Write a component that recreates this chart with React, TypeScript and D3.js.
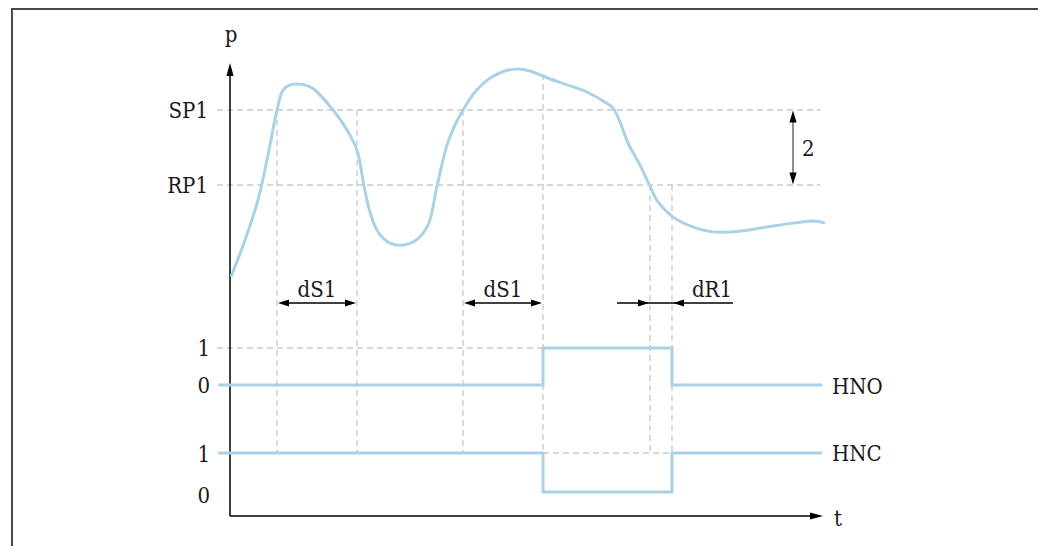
import React from 'react';
import * as d3 from 'd3';

// pressure curve p(t)
const curveT = [0.17, 2.53, 4.73, 6.42, 7.94, 8.95, 10.14, 11.82, 13.85, 17.4, 19.76, 21.45, 22.64, 23.65, 25.0, 27.03, 29.22, 31.42, 33.45, 34.97, 36.66, 38.01, 39.36, 41.39, 43.92, 46.45, 48.48, 50.68, 53.21, 56.59, 60.3, 63.34, 64.7, 65.88, 67.23, 69.26, 70.95, 72.3, 74.83, 77.7, 81.59, 86.15, 90.71, 95.44, 98.48, 100.5];
const curveP = [3.55, 4.53, 5.6, 6.8, 8.0, 8.53, 8.67, 8.69, 8.59, 8.0, 7.47, 6.93, 5.97, 5.28, 4.75, 4.45, 4.4, 4.53, 4.93, 5.97, 7.07, 7.6, 8.0, 8.48, 8.85, 9.04, 9.09, 9.04, 8.88, 8.69, 8.48, 8.21, 8.05, 7.68, 7.12, 6.53, 5.97, 5.55, 5.15, 4.91, 4.75, 4.77, 4.88, 4.99, 5.04, 4.99];

// thresholds
const thresholdNames = ['SP1', 'RP1'];
const thresholdValues = [8, 6];

// delay intervals (switch / reset)
const delayStart = [7.94, 39.36, 70.95];
const delayEnd = [21.45, 52.87, 74.66];
const delayNames = ['dS1', 'dS1', 'dR1'];

// switching outputs
const stepT = [-2, 52.87, 74.66, 100];
const hnoValues = [0, 1, 0];
const hncValues = [1, 0, 1];
const outputNames = ['HNO', 'HNC'];
const levelLabels = ['0', '1'];

const FONT = '"DejaVu Serif Condensed", "DejaVu Serif", serif';
const BLUE = '#a9d2e7';
const GRID = '#c9c9c9';
const TXT = '#1a1a1a';

function head(x: number, y: number, dir: 'l' | 'r' | 'u' | 'd', len = 11, hw = 3.6) {
  let pts: number[][];
  if (dir === 'r') pts = [[x, y], [x - len, y - hw], [x - len, y + hw]];
  else if (dir === 'l') pts = [[x, y], [x + len, y - hw], [x + len, y + hw]];
  else if (dir === 'u') pts = [[x, y], [x - hw, y + len], [x + hw, y + len]];
  else pts = [[x, y], [x - hw, y - len], [x + hw, y - len]];
  return <polygon points={pts.map(p => p.join(',')).join(' ')} fill="#000" />;
}

export default function App() {
  const x = d3.scaleLinear().domain([0, 100]).range([230, 822]);
  const yP = d3.scaleLinear().domain([6, 8]).range([185, 110]);
  const yHNO = d3.scaleLinear().domain([0, 1]).range([385, 348]);
  const yHNC = d3.scaleLinear().domain([0, 1]).range([492, 453]);

  const axisX = x(0);
  const axisY = 516;
  const axisTop = 63;
  const axisRight = 823;
  const leftStart = x(-2.2);
  const gridEnd = x(99.7);

  const pts: [number, number][] = curveT.map((t, i) => [t, curveP[i]]);
  const curvePath = d3.line<[number, number]>()
    .x(d => x(d[0])).y(d => yP(d[1]))
    .curve(d3.curveCatmullRom.alpha(0.5))(pts) || '';

  const stepPath = (vals: number[], ys: d3.ScaleLinear<number, number>) => {
    const sp: [number, number][] = vals.map((v, i) => [stepT[i], v]);
    sp.push([stepT[stepT.length - 1], vals[vals.length - 1]]);
    return d3.line<[number, number]>().x(d => x(d[0])).y(d => ys(d[1])).curve(d3.curveStepAfter)(sp) || '';
  };

  const dash = '6,4';
  const fs = 22;
  const arrowY = 303;

  const vLines: { t: number; y0: number }[] = [
    { t: delayStart[0], y0: yP(thresholdValues[0]) },
    { t: delayEnd[0], y0: yP(thresholdValues[0]) },
    { t: delayStart[1], y0: yP(thresholdValues[0]) },
    { t: delayEnd[1], y0: 74 },
    { t: delayStart[2], y0: yP(thresholdValues[1]) },
    { t: delayEnd[2], y0: yP(thresholdValues[1]) },
  ];

  const tp = { fontSize: fs, fill: TXT, fontStretch: 'condensed' } as any;

  return (
    <svg width={1038} height={546} style={{ position: 'fixed', left: 0, top: 0 }} fontFamily={FONT}>
      <rect x={0} y={0} width={1038} height={546} fill="#fff" />
      <rect x={12} y={9} width={1060} height={600} fill="none" stroke="#4a4a4a" strokeWidth={2} />

      {thresholdValues.map((v, i) => (
        <g key={thresholdNames[i]}>
          <line x1={leftStart} x2={gridEnd} y1={yP(v)} y2={yP(v)} stroke={GRID} strokeWidth={1.3} strokeDasharray={dash} />
          <text x={208} y={yP(v) + 8} textAnchor="end" {...tp}>{thresholdNames[i]}</text>
        </g>
      ))}
      <line x1={leftStart} x2={x(delayEnd[1])} y1={yHNO(1)} y2={yHNO(1)} stroke={GRID} strokeWidth={1.3} strokeDasharray={dash} />
      <line x1={x(delayEnd[1])} x2={x(delayEnd[2])} y1={yHNC(1)} y2={yHNC(1)} stroke={GRID} strokeWidth={1.3} strokeDasharray={dash} />

      {vLines.map((v, i) => (
        <line key={i} x1={x(v.t)} x2={x(v.t)} y1={v.y0} y2={yHNC(1)} stroke={GRID} strokeWidth={1.3} strokeDasharray={dash} />
      ))}

      <line x1={axisX} x2={axisX} y1={axisY} y2={axisTop + 8} stroke="#000" strokeWidth={1.5} />
      {head(axisX, axisTop, 'u', 13, 3.6)}
      <line x1={axisX} x2={axisRight - 8} y1={axisY} y2={axisY} stroke="#000" strokeWidth={1.5} />
      {head(axisRight, axisY, 'r', 13, 3.6)}
      <text x={axisX + 1} y={42} textAnchor="middle" {...tp}>p</text>
      <text x={834} y={526} {...tp}>t</text>

      <line x1={793} x2={793} y1={yP(8) + 6} y2={yP(6) - 6} stroke="#6a6a6a" strokeWidth={1.5} />
      {head(793, yP(8) + 0.5, 'u', 12, 3.6)}
      {head(793, yP(6) - 0.5, 'd', 12, 3.6)}
      <text x={802} y={156} {...tp}>2</text>

      {[0, 1].map(i => {
        const a = x(delayStart[i]);
        const b = x(delayEnd[i]);
        return (
          <g key={i}>
            <line x1={a + 4} x2={b - 4} y1={arrowY} y2={arrowY} stroke="#000" strokeWidth={1.3} />
            {head(a + 1, arrowY, 'l')}
            {head(b - 1, arrowY, 'r')}
            <text x={(a + b) / 2} y={297} textAnchor="middle" {...tp}>{delayNames[i]}</text>
          </g>
        );
      })}
      {(() => {
        const a = x(delayStart[2]);
        const b = x(delayEnd[2]);
        return (
          <g>
            <line x1={a - 33} x2={b + 61} y1={arrowY} y2={arrowY} stroke="#000" strokeWidth={1.3} />
            {head(a - 1, arrowY, 'r')}
            {head(b + 1, arrowY, 'l')}
            <text x={b + 40} y={297} textAnchor="middle" {...tp}>{delayNames[2]}</text>
          </g>
        );
      })()}

      <path d={curvePath} fill="none" stroke={BLUE} strokeWidth={3} strokeLinejoin="round" />

      <path d={stepPath(hnoValues, yHNO)} fill="none" stroke={BLUE} strokeWidth={3} />
      <path d={stepPath(hncValues, yHNC)} fill="none" stroke={BLUE} strokeWidth={3} />
      {levelLabels.map((l, v) => (
        <g key={l}>
          <text x={210} y={yHNO(v) + 8} textAnchor="end" {...tp}>{l}</text>
          <text x={210} y={yHNC(v) + 8 + (v === 0 ? 3 : 1)} textAnchor="end" {...tp}>{l}</text>
        </g>
      ))}
      <text x={832} y={yHNO(0) + 9} {...tp}>{outputNames[0]}</text>
      <text x={832} y={yHNC(1) + 8} {...tp}>{outputNames[1]}</text>
    </svg>
  );
}
